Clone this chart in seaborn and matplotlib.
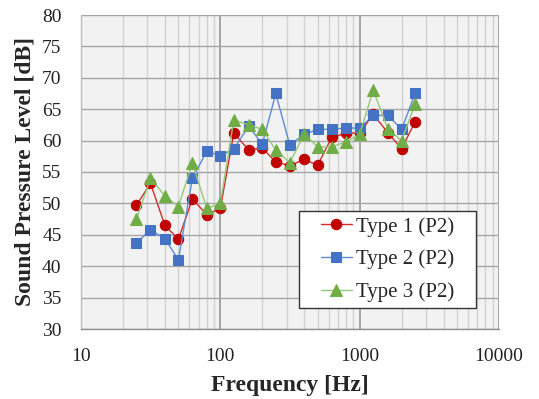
import matplotlib
matplotlib.use("Agg")
import matplotlib.pyplot as plt
import matplotlib.ticker as mticker
from matplotlib.patches import Rectangle
import seaborn as sns
import pandas as pd

freq = [25, 31.5, 40, 50, 63, 80, 100, 125, 160, 200, 250, 315, 400, 500,
        630, 800, 1000, 1250, 1600, 2000, 2500]
type1 = [49.7, 53.2, 46.5, 44.3, 50.7, 48.2, 49.2, 61.2, 58.5, 58.8, 56.6, 56.0,
         57.0, 56.1, 60.5, 61.2, 61.2, 64.2, 61.2, 58.7, 63.0]
type2 = [43.7, 45.8, 44.4, 41.0, 54.0, 58.3, 57.6, 58.7, 62.3, 59.4, 67.5, 59.3,
         61.0, 61.8, 61.8, 62.0, 62.0, 64.0, 64.0, 61.8, 67.5]
type3 = [47.5, 54.0, 51.2, 49.5, 56.4, 49.2, 50.0, 63.3, 62.5, 61.8, 58.5, 56.5,
         61.0, 59.0, 59.0, 59.8, 61.0, 68.0, 61.8, 60.0, 65.8]
labels = ["Type 1 (P2)", "Type 2 (P2)", "Type 3 (P2)"]

sns.set_style("white")
plt.rcParams['font.family'] = ['Liberation Serif', 'DejaVu Serif']

W, H = 539, 399
fig = plt.figure(figsize=(W/100, H/100), dpi=100)
ax = fig.add_axes([81/W, 1 - 329/H, (499 - 81)/W, (329 - 15)/H])
ax.set_facecolor('#f2f2f2')

styles = [
    (type1, 'o', '#C00000', '#D42A2A', 7.5),
    (type2, 's', '#4472C4', '#5E8AD4', 7),
    (type3, '^', '#70AD47', '#96C878', 8.5),
]
for (vals, m, mc, lc, ms), lab in zip(styles, labels):
    df = pd.DataFrame({"f": freq, "v": vals})
    sns.lineplot(data=df, x="f", y="v", ax=ax, color=lc, lw=1.0,
                 marker=m, markersize=ms, markerfacecolor=mc,
                 markeredgecolor=mc, label=lab, zorder=3)

ax.set_xscale('log')
ax.set_xlim(10, 10000)
ax.set_ylim(30, 80)
ax.set_yticks(range(30, 81, 5))
ax.xaxis.set_major_formatter(mticker.FuncFormatter(lambda v, p: f"{int(v)}"))
ax.xaxis.set_minor_locator(mticker.LogLocator(base=10, subs=range(2, 10)))
ax.xaxis.set_minor_formatter(mticker.NullFormatter())

ax.grid(True, which='major', axis='x', color='#8f8f8f', lw=1.1, zorder=0)
ax.grid(True, which='major', axis='y', color='#a6a6a6', lw=1.0, zorder=0)
ax.grid(True, which='minor', axis='x', color='#d2d2d2', lw=1.0, zorder=0)
ax.set_axisbelow(True)

for s in ['top', 'right']:
    ax.spines[s].set_visible(False)
ax.spines['left'].set_color('#bdbdbd')
ax.spines['bottom'].set_color('#8f8f8f')
for s in ['left', 'bottom']:
    ax.spines[s].set_linewidth(1.0)

ax.tick_params(axis='both', which='major', direction='out', length=5,
               color='#8f8f8f', labelsize=14, labelcolor='#222222')
ax.tick_params(axis='x', which='major', pad=9)
ax.tick_params(axis='y', which='major', pad=9)
ax.tick_params(axis='x', which='minor', length=0)

ax.set_xlabel("Frequency [Hz]", fontsize=17, fontweight='bold', labelpad=7)
ax.set_ylabel("Sound Pressure Level [dB]", fontsize=17, fontweight='bold', labelpad=5)

# legend frame box
lx0, lx1, ly0, ly1 = 299, 476, 211, 308
frame = Rectangle((lx0/W, 1 - ly1/H), (lx1 - lx0)/W, (ly1 - ly0)/H,
                  transform=fig.transFigure, facecolor='white',
                  edgecolor='#333333', lw=1.0, zorder=4.8, clip_on=False)
ax.add_patch(frame)

leg = ax.legend(loc='center', bbox_to_anchor=((lx0 + lx1)/2/W, 1 - (ly0 + ly1)/2/H),
                bbox_transform=fig.transFigure, frameon=False,
                fontsize=15, handlelength=1.5, borderpad=0.0, labelspacing=0.62,
                handletextpad=0.2, borderaxespad=0)
leg.set_zorder(5)

fig.savefig("out.png", dpi=100, facecolor='white')
